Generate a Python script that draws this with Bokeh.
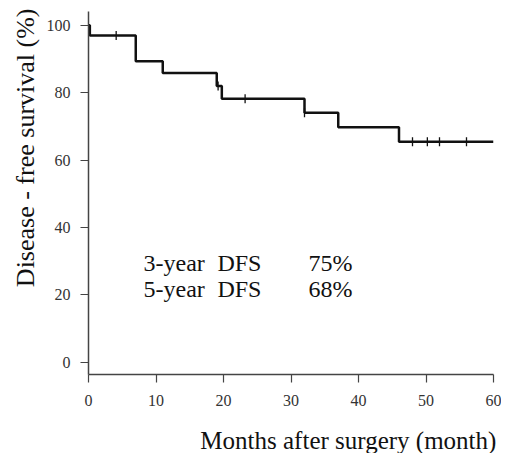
import numpy as np
from bokeh.plotting import figure
from bokeh.models import Label, FixedTicker, Title
from bokeh.embed import file_html
from bokeh.resources import INLINE

# Kaplan-Meier step data (months, DFS %)
step_times = [0, 0.2, 7, 11, 19, 19.75, 32, 37, 46, 60]
step_surv = [100, 97.0, 89.3, 85.8, 82.0, 78.2, 74.0, 69.7, 65.4, 65.4]
# censored observations
censor_times = [4.1, 19.2, 23.2, 32.0, 48.0, 50.2, 52.0, 56.0]
censor_surv = [97.0, 82.0, 78.2, 74.0, 65.4, 65.4, 65.4, 65.4]

x_ticks = [0, 10, 20, 30, 40, 50, 60]
y_ticks = [0, 20, 40, 60, 80, 100]

annot_years = ["3-year", "5-year"]
annot_vals = ["75%", "68%"]

FONT = "Liberation Serif"

p = figure(width=501, height=453, x_range=(0, 60), y_range=(-3.7, 104.1),
           output_backend="svg", toolbar_location=None,
           min_border_left=88, min_border_right=8, min_border_top=11, min_border_bottom=79)
p.outline_line_color = None
p.grid.visible = False
p.background_fill_color = "white"

for ax in (p.xaxis[0], p.yaxis[0]):
    ax.axis_line_color = "#444444"
    ax.axis_line_width = 1.5
    ax.major_tick_line_color = "#444444"
    ax.major_tick_line_width = 1.2
    ax.major_tick_out = 8
    ax.major_tick_in = 0
    ax.minor_tick_line_color = None
    ax.major_label_text_font = FONT
    ax.major_label_text_font_size = "16px"
    ax.major_label_text_color = "#333333"

p.xaxis.ticker = FixedTicker(ticks=x_ticks)
p.yaxis.ticker = FixedTicker(ticks=y_ticks)
p.xaxis.major_label_standoff = 12
p.yaxis.major_label_standoff = 10

p.step(step_times, step_surv, mode="after", line_color="#111111", line_width=2.5)
p.scatter(censor_times, censor_surv, marker="dash", angle=np.pi / 2, size=9,
          line_color="#111111", line_width=1.3)

base_y = [29.4, 21.7]
for yr, val, yy in zip(annot_years, annot_vals, base_y):
    for xx, txt in ((8.15, yr), (19.1, "DFS"), (32.6, val)):
        p.add_layout(Label(x=xx, y=yy, text=txt, text_font=FONT, text_font_size="24px",
                           text_color="#111111", text_baseline="alphabetic",
                           text_align="left"))

xlab = Label(x=38.5, y=-23.2, text="Months after surgery (month)", text_font=FONT,
             text_font_size="25px", text_color="#111111",
             text_baseline="alphabetic", text_align="center")
p.add_layout(xlab, "below")
ylab = Title(text="Disease - free survival (%)", text_font=FONT, text_font_size="26px",
             text_font_style="normal", text_color="#111111", align="right", offset=-3,
             standoff=8)
p.add_layout(ylab, "left")

open("out.html", "w").write(file_html(p, INLINE))
